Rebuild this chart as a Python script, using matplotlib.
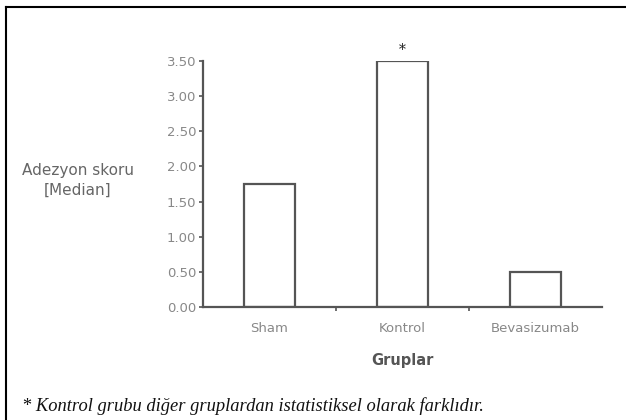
import matplotlib
matplotlib.use("Agg")
import matplotlib.pyplot as plt
from matplotlib.lines import Line2D

categories = ["Sham", "Kontrol", "Bevasizumab"]
values = [1.75, 3.50, 0.50]
yticks = [0.0, 0.5, 1.0, 1.5, 2.0, 2.5, 3.0, 3.5]
ytick_labels = ["0.00", "0.50", "1.00", "1.50", "2.00", "2.50", "3.00", "3.50"]

W, H = 626, 420
fig = plt.figure(figsize=(W / 100, H / 100), dpi=100)
fig.patch.set_facecolor("white")

ax = fig.add_axes([203 / W, 1 - 307 / H, (602 - 203) / W, (307 - 61) / H])
x = list(range(len(categories)))
ax.bar(x, values, width=0.39, facecolor="white", edgecolor="#555555", linewidth=1.6)
ax.set_xlim(-0.5, 2.5)
ax.set_ylim(0, 3.5)

for s in ["top", "right"]:
    ax.spines[s].set_visible(False)
for s in ["left", "bottom"]:
    ax.spines[s].set_color("#555555")
    ax.spines[s].set_linewidth(1.6)

ax.set_yticks(yticks)
ax.set_yticklabels(ytick_labels)
ax.set_xticks(x)
ax.set_xticklabels(categories)
ax.set_xticks([0.5, 1.5], minor=True)
ax.tick_params(axis="y", direction="out", length=3, width=1.2, color="#555555",
               labelcolor="#888888", labelsize=9.5, pad=2)
ax.tick_params(axis="x", which="major", length=0, labelcolor="#888888", labelsize=9.5, pad=11)
ax.tick_params(axis="x", which="minor", direction="out", length=3, width=1.2, color="#555555")

ax.text(1, 3.5 + 0.06, "*", ha="center", va="bottom", fontsize=10,
        family="DejaVu Serif", color="#222222")

fig.text(78 / W, 1 - 180 / H, "Adezyon skoru\n[Median]", ha="center", va="center",
         fontsize=11, color="#666666", linespacing=1.4)
fig.text(402 / W, 1 - 360 / H, "Gruplar", ha="center", va="center",
         fontsize=10.5, fontweight="bold", color="#555555")
fig.text(22 / W, 1 - 406 / H,
         "* Kontrol grubu diğer gruplardan istatistiksel olarak farklıdır.",
         ha="left", va="center", fontsize=13.3, style="italic",
         family="Liberation Serif", color="#111111")

fig.add_artist(Line2D([6 / W, 1.0], [1 - 7 / H, 1 - 7 / H], transform=fig.transFigure,
                      color="black", linewidth=1.5))
fig.add_artist(Line2D([6 / W, 6 / W], [1 - 7 / H, 0.0], transform=fig.transFigure,
                      color="black", linewidth=1.5))

fig.savefig("out.png", dpi=100)
